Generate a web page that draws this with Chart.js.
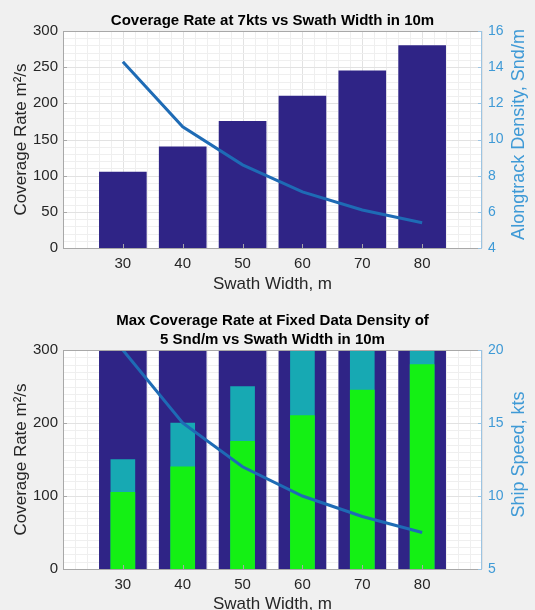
<!DOCTYPE html>
<html>
<head>
<meta charset="utf-8">
<script src="https://cdn.jsdelivr.net/npm/chart.js@4.4.0/dist/chart.umd.min.js"></script>
<style>
  html, body { margin: 0; padding: 0; background: #f0f0f0; overflow: hidden; }
  #rateChart { position: absolute; left: 0; top: 0; }
  #speedChart { position: absolute; left: 0; top: 300px; }
</style>
</head>
<body>
<canvas id="rateChart" width="535" height="300"></canvas>
<canvas id="speedChart" width="535" height="320"></canvas>
<script>
// swath widths (m) and x tick labels
const swathWidth = [30, 40, 50, 60, 70, 80];
const xTicks = [30, 40, 50, 60, 70, 80];

// top: coverage rate at 7 kts (m^2/s) and alongtrack density (Snd/m)
const rateAt7kts = [105, 140, 175, 210, 245, 280];
const alongtrackDensity = [14.3, 10.7, 8.6, 7.1, 6.1, 5.4];

// bottom: rate at max speed, rate at 5 Snd/m, and required ship speed (kts)
const rateMaxSpeed = [310, 410, 515, 620, 720, 825];
const rateAtDensity = [150, 200, 250, 300, 350, 400];
const shipSpeed = [20, 15, 12, 10, 8.6, 7.5];

const navy = '#2f2486';
const teal = '#17a9b3';
const green = '#14f014';
const lineBlue = '#1e6bb5';
const axisBlue = '#3f9ad6';
const textGray = '#262626';

Chart.defaults.font.family = '"Liberation Sans", Arial, Helvetica, sans-serif';
Chart.defaults.color = textGray;

function pts(xs, ys) {
  return xs.map((x, i) => ({ x: x, y: ys[i] }));
}

// white axes background with matlab-like minor grid
const plotGrid = {
  id: 'plotGrid',
  beforeDraw(chart, args, opts) {
    const { ctx, chartArea: a, scales } = chart;
    const x = scales.x, y = scales.y;
    ctx.save();
    ctx.fillStyle = '#ffffff';
    ctx.fillRect(a.left, a.top, a.right - a.left, a.bottom - a.top);
    ctx.lineWidth = 1;
    for (let v = x.min; v <= x.max; v += opts.xStep) {
      const px = Math.round(x.getPixelForValue(v)) + 0.5;
      ctx.strokeStyle = v % 10 === 0 ? '#e2e2e2' : '#efefef';
      ctx.beginPath(); ctx.moveTo(px, a.top); ctx.lineTo(px, a.bottom); ctx.stroke();
    }
    for (let v = y.min; v <= y.max; v += opts.yStep) {
      const py = Math.round(y.getPixelForValue(v)) + 0.5;
      ctx.strokeStyle = v % opts.yMajor === 0 ? '#e2e2e2' : '#efefef';
      ctx.beginPath(); ctx.moveTo(a.left, py); ctx.lineTo(a.right, py); ctx.stroke();
    }
    ctx.restore();
  }
};

// axes box, inward ticks and the right-hand axis label
const plotFrame = {
  id: 'plotFrame',
  afterDraw(chart, args, opts) {
    const { ctx, chartArea: a, scales } = chart;
    ctx.save();
    ctx.lineWidth = 1;
    ctx.strokeStyle = '#a8a8a8';
    ctx.beginPath();
    ctx.moveTo(a.right, a.top + 0.5); ctx.lineTo(a.left + 0.5, a.top + 0.5);
    ctx.lineTo(a.left + 0.5, a.bottom + 0.5); ctx.lineTo(a.right, a.bottom + 0.5);
    ctx.stroke();
    scales.y.ticks.forEach(t => {
      const py = Math.round(scales.y.getPixelForValue(t.value)) + 0.5;
      ctx.beginPath(); ctx.moveTo(a.left, py); ctx.lineTo(a.left + 4, py); ctx.stroke();
    });
    scales.x.ticks.forEach(t => {
      const px = Math.round(scales.x.getPixelForValue(t.value)) + 0.5;
      ctx.beginPath(); ctx.moveTo(px, a.bottom); ctx.lineTo(px, a.bottom - 4); ctx.stroke();
    });
    ctx.strokeStyle = '#9cc4e2';
    ctx.beginPath();
    ctx.moveTo(a.right - 0.5, a.top); ctx.lineTo(a.right - 0.5, a.bottom + 1);
    ctx.stroke();
    scales.y1.ticks.forEach(t => {
      const py = Math.round(scales.y1.getPixelForValue(t.value)) + 0.5;
      ctx.beginPath(); ctx.moveTo(a.right, py); ctx.lineTo(a.right - 4, py); ctx.stroke();
    });
    // right label reads bottom-to-top
    ctx.translate(opts.x, (a.top + a.bottom) / 2 - 5);
    ctx.rotate(-Math.PI / 2);
    ctx.fillStyle = axisBlue;
    ctx.font = '18px "Liberation Sans", Arial, sans-serif';
    ctx.textAlign = 'center';
    ctx.textBaseline = 'middle';
    ctx.fillText(opts.text, 0, 0);
    ctx.restore();
  }
};

function makeScales(o) {
  return {
    x: {
      type: 'linear', min: 20, max: 90, offset: false,
      afterBuildTicks: s => { s.ticks = xTicks.map(v => ({ value: v })); },
      grid: { display: false, drawTicks: false, offset: false }, border: { display: false },
      ticks: { color: textGray, font: { size: 15 }, padding: 7, maxRotation: 0 },
      title: { display: true, text: 'Swath Width, m', color: textGray, font: { size: 17 }, padding: { top: 0, bottom: 5 } },
      afterFit: s => { s.height = o.xHeight; }
    },
    y: {
      position: 'left', min: 0, max: 300,
      grid: { display: false, drawTicks: false }, border: { display: false },
      ticks: { stepSize: o.leftStep, color: textGray, font: { size: 15 }, padding: 5 },
      title: { display: true, text: 'Coverage Rate m²/s', color: textGray, font: { size: 17 }, padding: { top: 11, bottom: 0 } },
      afterFit: s => { s.width = 63; }
    },
    y1: {
      position: 'right', min: o.rightMin, max: o.rightMax,
      grid: { display: false, drawTicks: false }, border: { display: false },
      ticks: { stepSize: o.rightStep, color: axisBlue, font: { size: 14 }, padding: 6 },
      afterFit: s => { s.width = 53; }
    }
  };
}

const lineStyle = {
  type: 'line', yAxisID: 'y1', borderColor: lineBlue, borderWidth: 3,
  pointRadius: 0, tension: 0, order: 0
};

new Chart(document.getElementById('rateChart'), {
  type: 'bar',
  data: {
    datasets: [
      Object.assign({ data: pts(swathWidth, alongtrackDensity) }, lineStyle),
      { type: 'bar', data: pts(swathWidth, rateAt7kts), yAxisID: 'y', backgroundColor: navy,
        barThickness: 47, grouped: false, order: 1 }
    ]
  },
  options: {
    responsive: false,
    animation: false,
    layout: { padding: 0 },
    scales: makeScales({ xHeight: 52, leftStep: 50, rightMin: 4, rightMax: 16, rightStep: 2 }),
    plugins: {
      legend: { display: false },
      tooltip: { enabled: false },
      title: {
        display: true, fullSize: false, color: '#000',
        text: 'Coverage Rate at 7kts vs Swath Width in 10m',
        font: { size: 15, weight: 'bold' }, padding: { top: 12, bottom: 1 }
      },
      plotGrid: { xStep: 2, yStep: 10, yMajor: 50 },
      plotFrame: { x: 519, text: 'Alongtrack Density, Snd/m' }
    }
  },
  plugins: [plotGrid, plotFrame]
});

new Chart(document.getElementById('speedChart'), {
  type: 'bar',
  data: {
    datasets: [
      Object.assign({ data: pts(swathWidth, shipSpeed) }, lineStyle),
      { type: 'bar', data: pts(swathWidth, rateAt7kts), yAxisID: 'y', backgroundColor: green,
        barThickness: 24, grouped: false, order: 1 },
      { type: 'bar', data: pts(swathWidth, rateAtDensity), yAxisID: 'y', backgroundColor: teal,
        barThickness: 24, grouped: false, order: 2 },
      { type: 'bar', data: pts(swathWidth, rateMaxSpeed), yAxisID: 'y', backgroundColor: navy,
        barThickness: 47, grouped: false, order: 3 }
    ]
  },
  options: {
    responsive: false,
    animation: false,
    layout: { padding: 0 },
    scales: makeScales({ xHeight: 51, leftStep: 100, rightMin: 5, rightMax: 20, rightStep: 5 }),
    plugins: {
      legend: { display: false },
      tooltip: { enabled: false },
      title: {
        display: true, fullSize: false, color: '#000',
        text: ['Max Coverage Rate at Fixed Data Density of', '5 Snd/m vs Swath Width in 10m'],
        font: { size: 15, weight: 'bold', lineHeight: 1.3 }, padding: { top: 11, bottom: 0 }
      },
      plotGrid: { xStep: 2, yStep: 10, yMajor: 100 },
      plotFrame: { x: 519, text: 'Ship Speed, kts' }
    }
  },
  plugins: [plotGrid, plotFrame]
});
</script>
</body>
</html>
